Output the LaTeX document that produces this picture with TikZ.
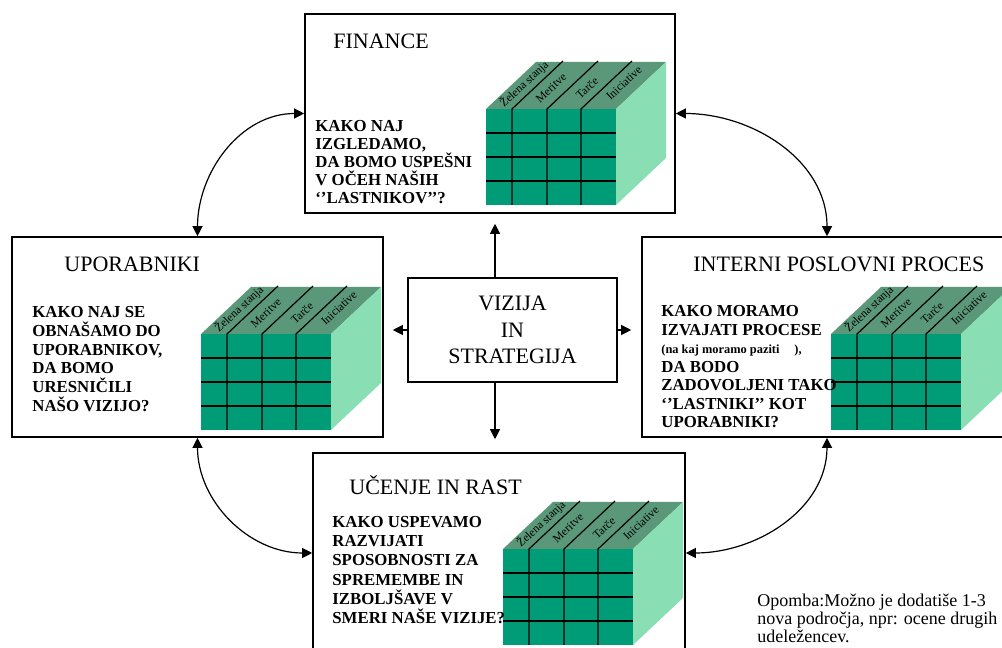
\documentclass[tikz,border=0pt]{standalone}
\usepackage{fontspec}
\setmainfont{Liberation Serif}
\usetikzlibrary{arrows.meta}

\definecolor{kockaspredaj}{RGB}{0,155,119}
\definecolor{kockazgoraj}{RGB}{90,152,121}
\definecolor{kockadesno}{RGB}{137,222,180}

\begin{document}
\begin{tikzpicture}[x=0.5pt,y=0.5pt,
    okvir/.style={draw, line width=0.8pt, inner sep=0pt},
    naslov/.style={anchor=base west, inner sep=0pt, font=\fontsize{11}{13}\selectfont},
    vprasanje/.style={anchor=north west, inner sep=0pt, align=left},
    puscica/.style={-{Triangle[length=5pt,width=5pt]}, line width=0.6pt},
    dvojna/.style={{Triangle[length=5pt,width=5pt]}-{Triangle[length=5pt,width=5pt]}, line width=0.6pt},
    mreza/.style={line width=0.6pt},
    oznaka/.style={rotate=43, inner sep=0pt, font=\fontsize{5.8}{6}\selectfont}]
    \useasboundingbox (0,0) rectangle (1002,648);

    % Okvirji
    \node[okvir, minimum width=185pt, minimum height=99.5pt] (fin) at (490,534.5) {};
    \node[okvir, minimum width=185.5pt, minimum height=100pt] (upor) at (197.5,311) {};
    \node[okvir, minimum width=185pt, minimum height=100pt] (int) at (827,311) {};
    \node[okvir, minimum width=186pt, minimum height=100pt] (uc) at (499,95) {};
    \node[okvir, minimum width=104.5pt, minimum height=52pt, align=center,
          font=\fontsize{11}{13.3}\selectfont] (viz) at (512.5,318) {VIZIJA\\IN\\STRATEGIJA};

    % Kocke (levi zgornji kot sprednje ploskve)
    \foreach \kx/\ky in {486/539, 201/314, 831/314, 503/99} {
        \fill[kockaspredaj] (\kx,\ky) rectangle ++(130,-96);
        \fill[kockazgoraj] (\kx,\ky) -- ++(50,47) -- ++(130,0) -- ++(-50,-47) -- cycle;
        \fill[kockadesno] (\kx+130,\ky) -- ++(50,47) -- ++(0,-96) -- ++(-50,-47) -- cycle;
        \foreach \c in {26,61,95}
            \draw[mreza] (\kx+\c,\ky-96) -- (\kx+\c,\ky) -- ++(51,48);
        \foreach \r in {24,48,72}
            \draw[mreza] (\kx,\ky-\r) -- ++(130,0);
        \node[oznaka] (zel-\kx) at (\kx+38,\ky+25) {Želena stanja};
        \node[oznaka] (mer-\kx) at (\kx+65,\ky+21) {Meritve};
        \node[oznaka] (tar-\kx) at (\kx+101,\ky+21) {Tarče};
        \node[oznaka] (ini-\kx) at (\kx+138,\ky+26) {Iniciative};
    }

    % Puščice iz sredine
    \coordinate (os) at (495,0);
    \draw[puscica, shorten >=5pt] (viz.north -| os) -- (fin.south -| os);
    \draw[puscica, shorten >=6.5pt] (viz.south -| os) -- (uc.north -| os);
    \draw[puscica, shorten >=4.5pt] (viz.west) -- (viz.west -| upor.east);
    \draw[puscica, shorten >=5pt] (viz.east) -- (viz.east -| int.west);

    % Ukrivljene puščice med okvirji
    \draw[dvojna] (upor.north) to[out=90,in=180] (fin.west);
    \draw[dvojna] (int.north) to[out=90,in=0] (fin.east);
    \draw[dvojna] (upor.south) to[out=-90,in=180] (uc.west);
    \draw[dvojna] (int.south) to[out=-90,in=0] (uc.east);

    % Besedila
    \node[naslov] (finnaslov) at (333,599) {FINANCE};
    \node[vprasanje, font=\fontsize{8.4}{9}\selectfont\bfseries] (finvpr) at (315,528)
        {KAKO NAJ\\IZGLEDAMO,\\DA BOMO USPEŠNI\\V OČEH NAŠIH\\‘’LASTNIKOV’{}’?};

    \node[naslov] (upornaslov) at (64,376) {UPORABNIKI};
    \node[vprasanje, font=\fontsize{8.4}{9.4}\selectfont\bfseries] (uporvpr) at (32,342)
        {KAKO NAJ SE\\OBNAŠAMO DO\\UPORABNIKOV,\\DA BOMO\\URESNIČILI\\NAŠO VIZIJO?};

    \node[naslov] (intnaslov) at (693,376) {INTERNI POSLOVNI PROCES};
    \node[vprasanje, font=\fontsize{8.4}{9.25}\selectfont\bfseries] (intvpr) at (661,343)
        {KAKO MORAMO\\IZVAJATI PROCESE\\{\fontsize{6.2}{9.25}\selectfont(na kaj moramo paziti\hspace{1.2em}),}\\DA BODO\\ZADOVOLJENI TAKO\\‘’LASTNIKI’{}’ KOT\\UPORABNIKI?};

    \node[naslov] (ucnaslov) at (349,153) {UČENJE IN RAST};
    \node[vprasanje, font=\fontsize{8.4}{9.6}\selectfont\bfseries] (ucvpr) at (332,132)
        {KAKO USPEVAMO\\RAZVIJATI\\SPOSOBNOSTI ZA\\SPREMEMBE IN\\IZBOLJŠAVE V\\SMERI NAŠE VIZIJE?};

    \node[vprasanje, font=\fontsize{9}{9}\selectfont] (opomba) at (757,54)
        {Opomba:Možno je dodatiše 1-3\\nova področja, npr: ocene drugih\\udeležencev.};
\end{tikzpicture}
\end{document}
